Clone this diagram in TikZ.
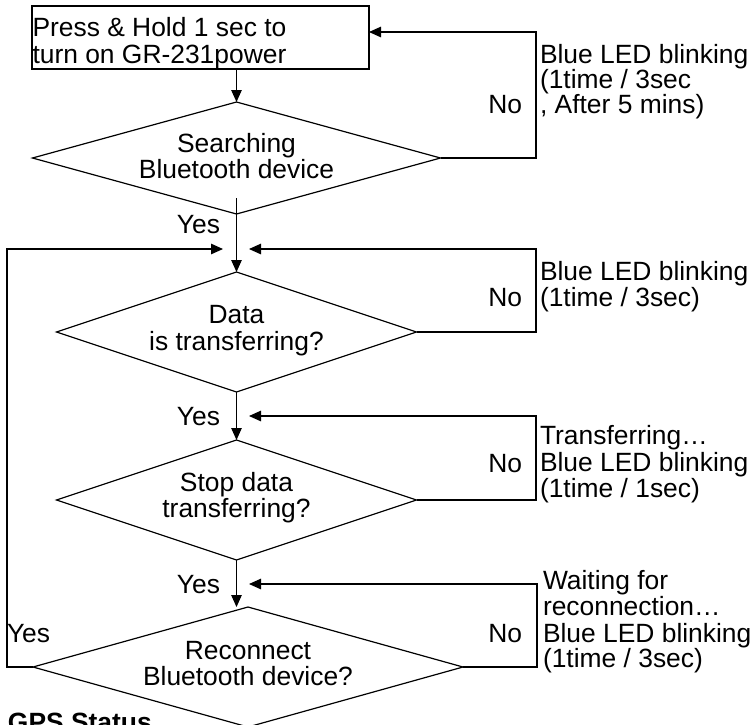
\documentclass[tikz,border=0pt]{standalone}
\usepackage{fontspec}
\setmainfont{Liberation Sans}
\usetikzlibrary{shapes.geometric,arrows.meta}
\tikzset{
  lbl/.style={inner sep=0pt, outer sep=0pt, font=\fontsize{26.4pt}{27pt}\selectfont},
  startbox/.style={draw, rectangle, line width=1.2pt, inner sep=0pt, outer sep=0pt, minimum width=337pt, minimum height=63pt},
  decision/.style={draw, diamond, line width=1.2pt, inner sep=0pt, outer sep=0pt},
  flow/.style={line width=1.2pt, -{Triangle[length=12pt,width=10.5pt]}},
}
\begin{document}
\begin{tikzpicture}[x=1pt,y=-1pt]
\useasboundingbox (0,0) rectangle (755,724);
\clip (0,0) rectangle (755,724);
\fill[white] (0,0) rectangle (755,724);

% shapes
\node[startbox] (start) at (200.5,37.5) {};
\node[decision, minimum width=408pt, minimum height=112pt] (d1) at (236.5,158) {};
\node[decision, minimum width=360pt, minimum height=120pt] (d2) at (236.5,332) {};
\node[decision, minimum width=360pt, minimum height=120pt] (d3) at (236.5,500) {};
\node[decision, minimum width=430pt, minimum height=120pt] (d4) at (248,667) {};

% texts in shapes
\node[lbl, anchor=base west] (t0a) at (32.5,36) {Press \& Hold 1 sec to};
\node[lbl, anchor=base west] (t0b) at (32.5,63) {turn on GR-231power};
\node[lbl, anchor=base] (t1a) at (236.5,152) {Searching};
\node[lbl, anchor=base] (t1b) at (236.5,178) {Bluetooth device};
\node[lbl, anchor=base] (t2a) at (236.5,323) {Data};
\node[lbl, anchor=base] (t2b) at (236.5,350) {is transferring?};
\node[lbl, anchor=base] (t3a) at (236.5,491) {Stop data};
\node[lbl, anchor=base] (t3b) at (236.5,517) {transferring?};
\node[lbl, anchor=base] (t4a) at (248,659) {Reconnect};
\node[lbl, anchor=base] (t4b) at (248,685) {Bluetooth device?};

% coordinates for loops
\coordinate (r1) at (536,32);
\coordinate (r2) at (536,249);
\coordinate (in2r) at (249,249);
\coordinate (l1) at (7,249);
\coordinate (in2l) at (223,249);
\coordinate (r3) at (536,416);
\coordinate (in3) at (249,416);
\coordinate (r4) at (537,584);
\coordinate (in4) at (249,584);

% main flow
\draw[flow] (start.south -| d1.north) -- (d1.north);
\draw[flow] ([yshift=16pt]d1.south) -- (d2.north);
\draw[flow] (d2.south) -- (d3.north);
\draw[flow] (d3.south) -- (d3.south |- d4.north);

% loops
\draw[flow] (d1.east) -| (r1) -- (r1 -| start.east);
\draw[flow] (d2.east) -| (r2) -- (in2r);
\draw[flow] (d3.east) -| (r3) -- (in3);
\draw[flow] (d4.east) -| (r4) -- (in4);
\draw[flow] (d4.west) -| (l1) -- (in2l);

% yes / no labels
\node[lbl, anchor=base east] (y1) at (220,233) {Yes};
\node[lbl, anchor=base east] (y2) at (220,425) {Yes};
\node[lbl, anchor=base east] (y3) at (220,593) {Yes};
\node[lbl, anchor=base west] (y4) at (7,642) {Yes};
\node[lbl, anchor=base east] (n1) at (522,113) {No};
\node[lbl, anchor=base east] (n2) at (522,306) {No};
\node[lbl, anchor=base east] (n3) at (522,472) {No};
\node[lbl, anchor=base east] (n4) at (522,642) {No};

% side notes
\node[lbl, anchor=base west] (s1a) at (540,63) {Blue LED blinking};
\node[lbl, anchor=base west] (s1b) at (540,88) {(1time / 3sec};
\node[lbl, anchor=base west] (s1c) at (540,113) {, After 5 mins)};
\node[lbl, anchor=base west] (s2a) at (540,280) {Blue LED blinking};
\node[lbl, anchor=base west] (s2b) at (540,306) {(1time / 3sec)};
\node[lbl, anchor=base west] (s3a) at (540,444) {Transferring…};
\node[lbl, anchor=base west] (s3b) at (540,471) {Blue LED blinking};
\node[lbl, anchor=base west] (s3c) at (540,497) {(1time / 1sec)};
\node[lbl, anchor=base west] (s4a) at (543,589) {Waiting for};
\node[lbl, anchor=base west] (s4b) at (543,615) {reconnection…};
\node[lbl, anchor=base west] (s4c) at (543,642) {Blue LED blinking};
\node[lbl, anchor=base west] (s4d) at (543,667) {(1time / 3sec)};

% cut-off heading
\node[lbl, anchor=base west, font=\fontsize{26.4pt}{27pt}\selectfont\bfseries] (gps) at (8,731) {GPS Status};
\end{tikzpicture}
\end{document}
